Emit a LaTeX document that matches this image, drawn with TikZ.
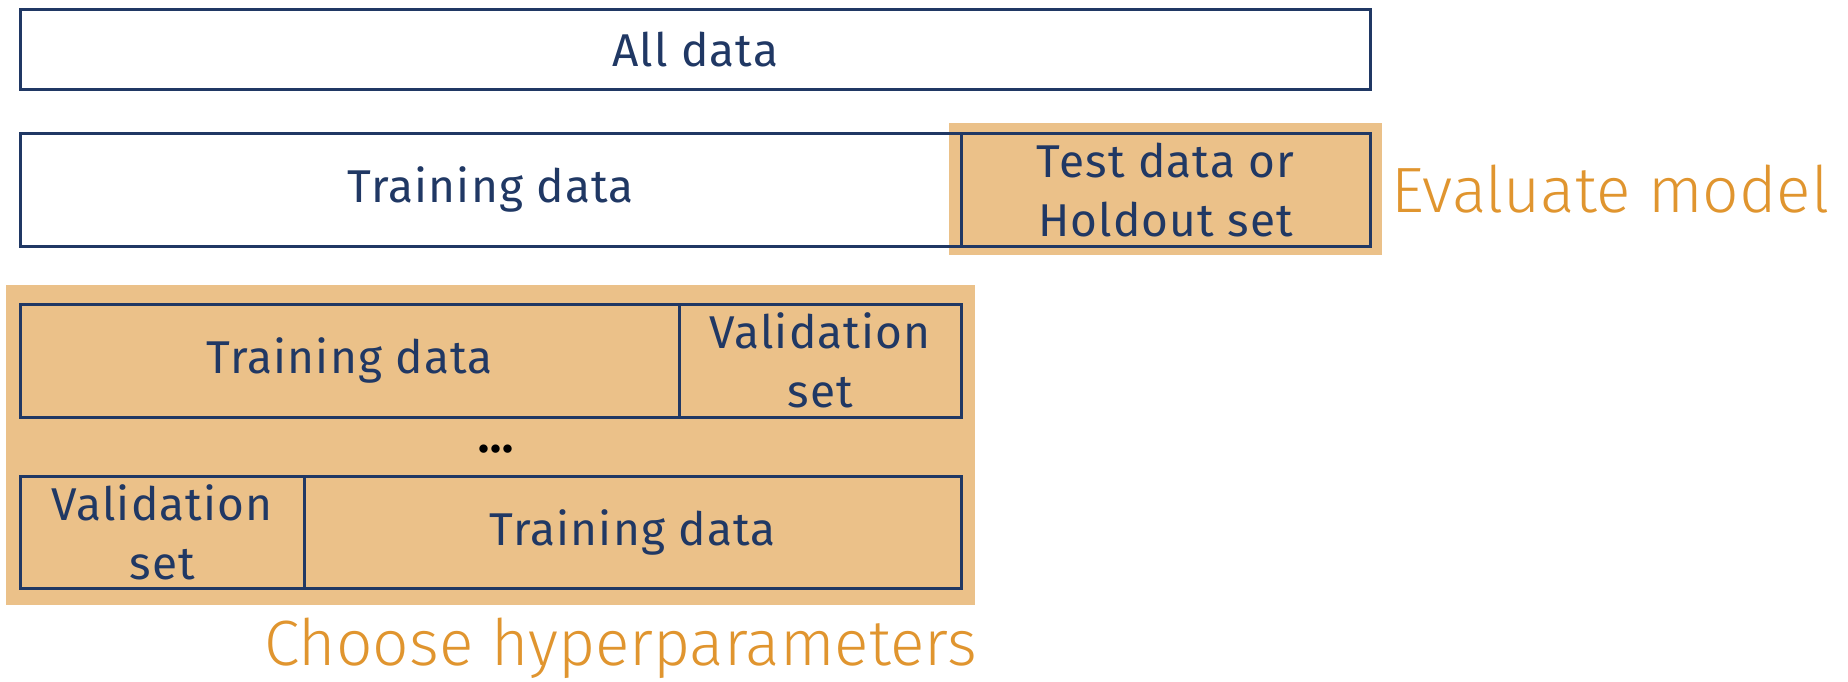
\documentclass[tikz,border=0pt]{standalone}
\usepackage{fontspec}
\setmainfont{Fira Sans}[LetterSpace=2.5]
\newfontfamily\lightfont{Fira Sans Light}
\definecolor{navy}{HTML}{203864}
\definecolor{sand}{HTML}{EBC189}
\definecolor{amber}{HTML}{E0952F}
\begin{document}
\begin{tikzpicture}[x=1pt,y=-1pt,
  part/.style={draw=navy, line width=2.5pt, text=navy, anchor=north west,
    inner sep=0pt, align=center, font=\fontsize{46}{59}\selectfont},
  panel/.style={fill=sand, draw=none},
  caption/.style={text=amber, inner sep=0pt, font=\lightfont\fontsize{64}{70}\selectfont}]
\useasboundingbox (0,0) rectangle (1848,681);
% highlighted regions
\path[panel] (949,123) rectangle (1382,255);
\path[panel] (6,285) rectangle (975,605);
% full data set
\node[part, minimum width=1350pt, minimum height=80pt] (all) at (19,8) {All data};
% train / test split
\node[part, minimum width=941pt, minimum height=113pt] (train) at (19,132) {Training data};
\node[part, minimum width=409pt, minimum height=113pt] (test) at (960,132) {Test data or\\Holdout set};
\node[caption, anchor=west] (evalm) at (1391,189) {Evaluate model};
% cross-validation folds
\node[part, minimum width=659pt, minimum height=113pt] (trainA) at (19,303) {Training data};
\node[part, minimum width=282pt, minimum height=113pt] (valA) at (678,303) {Validation\\set};
\node[inner sep=0pt, font=\bfseries\fontsize{46}{50}\selectfont] (dots) at (496,449) {...};
\node[part, minimum width=284pt, minimum height=112pt] (valB) at (19,475) {Validation\\set};
\node[part, minimum width=657pt, minimum height=112pt] (trainB) at (303,475) {Training data};
\node[caption, anchor=east] (choose) at (977,648) {Choose hyperparameters};
\end{tikzpicture}
\end{document}
